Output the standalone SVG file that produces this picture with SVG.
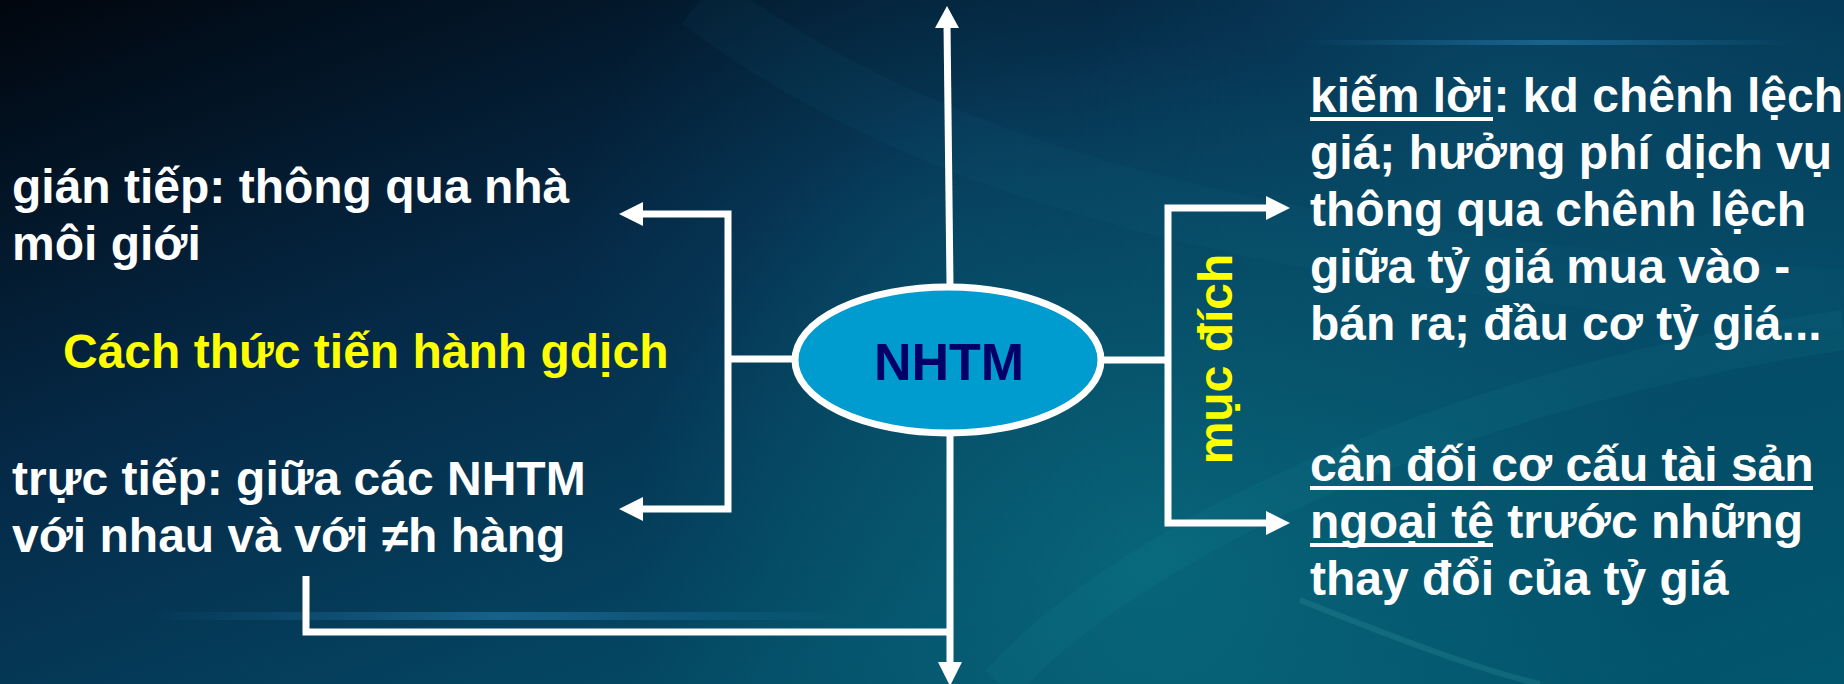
<svg xmlns="http://www.w3.org/2000/svg" width="1844" height="684" viewBox="0 0 1844 684">
<defs>
<linearGradient id="bg" x1="0" y1="0" x2="1" y2="1">
<stop offset="0" stop-color="#01060e"/>
<stop offset="0.35" stop-color="#052a48"/>
<stop offset="0.7" stop-color="#044a66"/>
<stop offset="1" stop-color="#02566e"/>
</linearGradient>
<radialGradient id="glow1" cx="1150" cy="560" r="520" gradientUnits="userSpaceOnUse">
<stop offset="0" stop-color="#0a7a88" stop-opacity="0.55"/>
<stop offset="1" stop-color="#0a7a88" stop-opacity="0"/>
</radialGradient>
<radialGradient id="glow2" cx="1500" cy="120" r="420" gradientUnits="userSpaceOnUse">
<stop offset="0" stop-color="#0a5a78" stop-opacity="0.5"/>
<stop offset="1" stop-color="#0a5a78" stop-opacity="0"/>
</radialGradient>
<radialGradient id="glow3" cx="950" cy="250" r="380" gradientUnits="userSpaceOnUse">
<stop offset="0" stop-color="#0a5a78" stop-opacity="0.35"/>
<stop offset="1" stop-color="#0a5a78" stop-opacity="0"/>
</radialGradient>
<linearGradient id="streak" x1="0" y1="0" x2="1" y2="0">
<stop offset="0" stop-color="#3aa0e0" stop-opacity="0"/>
<stop offset="0.5" stop-color="#3aa0e0" stop-opacity="0.35"/>
<stop offset="1" stop-color="#3aa0e0" stop-opacity="0"/>
</linearGradient>
<style>
.ln{stroke:#ffffff;stroke-width:7;fill:none}
.ah{fill:#ffffff}
.ul{stroke:#ffffff;stroke-width:4}
.t{font-family:"Liberation Sans",Arial,sans-serif;font-weight:bold;font-size:48px;fill:#ffffff}
.y{fill:#ffff00}
</style>
</defs>
<rect width="1844" height="684" fill="url(#bg)"/>
<rect width="1844" height="684" fill="url(#glow1)"/>
<rect width="1844" height="684" fill="url(#glow2)"/>
<rect width="1844" height="684" fill="url(#glow3)"/>
<path d="M700 0 C 900 150 1200 260 1844 300" stroke="#2a8ab0" stroke-opacity="0.06" stroke-width="60" fill="none"/>
<path d="M1000 684 C 1150 520 1500 380 1844 330" stroke="#2aa0b0" stroke-opacity="0.08" stroke-width="40" fill="none"/>
<path d="M1300 600 C 1400 640 1480 670 1540 684" stroke="#5ac0c0" stroke-opacity="0.15" stroke-width="6" fill="none"/>
<rect x="150" y="612" width="700" height="8" fill="url(#streak)"/>
<rect x="1300" y="40" width="500" height="5" fill="url(#streak)"/>

<g id="connectors">
<line class="ln" x1="950" y1="285" x2="947" y2="24"/>
<polygon class="ah" points="947,6 935,28 959,28"/>
<line class="ln" x1="950" y1="435" x2="950" y2="664"/>
<polygon class="ah" points="950,686 938,662 962,662"/>
<path class="ln" d="M306 576 V632 H950"/>
<path class="ln" d="M796 359 H728"/>
<path class="ln" d="M640 214 H728 V509 H640"/>
<polygon class="ah" points="619,214 643,202 643,226"/>
<polygon class="ah" points="619,509 643,497 643,521"/>
<path class="ln" d="M1102 360 H1168"/>
<path class="ln" d="M1268 208 H1168 V523 H1268"/>
<polygon class="ah" points="1290,208 1266,196 1266,220"/>
<polygon class="ah" points="1290,523 1266,511 1266,535"/>
</g>

<g id="nhtm">
<ellipse cx="948" cy="360" rx="153" ry="73" fill="#009bcf" stroke="#ffffff" stroke-width="7"/>
<text class="t" x="949" y="380" text-anchor="middle" style="font-size:52px;fill:#000066">NHTM</text>
</g>

<g id="gian-tiep">
<text class="t" x="12" y="203">gián tiếp: thông qua nhà</text>
<text class="t" x="12" y="260">môi giới</text>
</g>

<g id="cach-thuc">
<text class="t y" x="63" y="368">Cách thức tiến hành gdịch</text>
</g>

<g id="truc-tiep">
<text class="t" x="12" y="495">trực tiếp: giữa các NHTM</text>
<text class="t" x="12" y="552">với nhau và với ≠h hàng</text>
</g>

<g id="muc-dich">
<text class="t y" transform="translate(1232,359) rotate(-90)" x="0" y="0" text-anchor="middle">mục đích</text>
</g>

<g id="kiem-loi">
<text class="t" x="1310" y="112">kiếm lời: kd chênh lệch</text>
<line class="ul" x1="1310" y1="119" x2="1493" y2="119"/>
<text class="t" x="1310" y="169">giá; hưởng phí dịch vụ</text>
<text class="t" x="1310" y="226">thông qua chênh lệch</text>
<text class="t" x="1310" y="283">giữa tỷ giá mua vào -</text>
<text class="t" x="1310" y="340">bán ra; đầu cơ tỷ giá...</text>
</g>

<g id="can-doi">
<text class="t" x="1310" y="481">cân đối cơ cấu tài sản</text>
<line class="ul" x1="1310" y1="488" x2="1813" y2="488"/>
<text class="t" x="1310" y="538">ngoại tệ trước những</text>
<line class="ul" x1="1310" y1="545" x2="1493" y2="545"/>
<text class="t" x="1310" y="595">thay đổi của tỷ giá</text>
</g>
</svg>
